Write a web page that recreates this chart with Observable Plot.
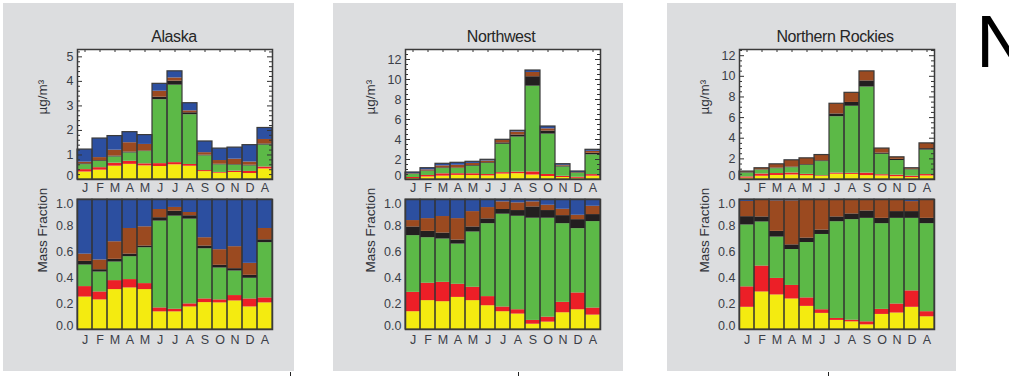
<!DOCTYPE html>
<html>
<head>
<meta charset="utf-8">
<script src="https://cdn.jsdelivr.net/npm/d3@7"></script>
<script src="https://cdn.jsdelivr.net/npm/@observablehq/plot@0.6"></script>
<style>
  body { margin: 0; background: #ffffff; }
  #root { position: relative; width: 1009px; height: 376px; overflow: hidden; font-family: Arial, "Liberation Sans", sans-serif; }
  .panel { position: absolute; background: #dcdddf; }
  .title { position: absolute; width: 200px; font-size: 16px; line-height: 18px; letter-spacing: -0.4px; color: #262626; text-align: center; }
  .chart { position: absolute; }
  .bigN { position: absolute; font-size: 74px; line-height: 74px; color: #000; font-family: Arial, "Liberation Sans", sans-serif; }
  .mark { position: absolute; width: 1px; height: 4px; background: #222; }
</style>
</head>
<body>
<div id="root"></div>
<script>
// ---- categories ----
const monthLabels = ["J","F","M","A","M","J","J","A","S","O","N","D","A"];
const componentNames = ["Ammonium sulfate","Ammonium nitrate","Organic mass","Elemental carbon","Soil","Sea salt"];
const componentColors = ["#f4eb10","#ec1f27","#5cb947","#231f20","#9b4a20","#2c4fa0"];
const regionNames = ["Alaska","Northwest","Northern Rockies"];

// ---- Alaska: monthly total (µg/m³) and mass fractions ----
const alaskaTotal    = [1.22,1.67,1.77,1.93,1.81,3.90,4.41,3.11,1.55,1.26,1.30,1.40,2.10];
const alaskaSulfate  = [0.250,0.228,0.307,0.320,0.307,0.136,0.136,0.174,0.207,0.205,0.220,0.174,0.205];
const alaskaNitrate  = [0.080,0.061,0.069,0.064,0.046,0.030,0.020,0.023,0.028,0.023,0.041,0.061,0.038];
const alaskaOrganic  = [0.166,0.153,0.143,0.176,0.276,0.668,0.716,0.652,0.386,0.245,0.189,0.159,0.425];
const alaskaEC       = [0.028,0.018,0.021,0.020,0.013,0.026,0.038,0.026,0.021,0.021,0.018,0.023,0.022];
const alaskaSoil     = [0.056,0.075,0.135,0.197,0.148,0.063,0.029,0.025,0.064,0.120,0.169,0.092,0.087];
const alaskaSeaSalt  = [0.420,0.465,0.325,0.223,0.210,0.077,0.061,0.100,0.294,0.386,0.363,0.491,0.223];

// ---- Northwest ----
const northwestTotal    = [0.70,1.13,1.57,1.67,1.77,1.97,3.97,4.87,10.90,5.30,1.53,0.80,2.97];
const northwestSulfate  = [0.137,0.222,0.214,0.247,0.222,0.183,0.137,0.119,0.041,0.057,0.129,0.152,0.111];
const northwestNitrate  = [0.149,0.134,0.149,0.101,0.103,0.070,0.036,0.033,0.029,0.038,0.080,0.129,0.054];
const northwestOrganic  = [0.436,0.350,0.333,0.309,0.425,0.561,0.714,0.719,0.786,0.761,0.605,0.495,0.665];
const northwestEC       = [0.067,0.049,0.046,0.031,0.039,0.037,0.036,0.044,0.087,0.059,0.062,0.069,0.054];
const northwestSoil     = [0.049,0.098,0.127,0.165,0.118,0.087,0.059,0.059,0.039,0.041,0.049,0.034,0.064];
const northwestSeaSalt  = [0.162,0.147,0.131,0.147,0.093,0.062,0.018,0.026,0.018,0.044,0.075,0.121,0.052];

// ---- Northern Rockies ----
const rockiesTotal    = [0.77,1.09,1.47,1.86,2.05,2.37,7.34,8.40,10.48,3.00,2.15,1.09,3.50];
const rockiesSulfate  = [0.171,0.289,0.266,0.235,0.178,0.124,0.070,0.059,0.036,0.116,0.127,0.171,0.098];
const rockiesNitrate  = [0.157,0.199,0.127,0.104,0.065,0.028,0.015,0.013,0.023,0.039,0.069,0.126,0.039];
const rockiesOrganic  = [0.476,0.339,0.318,0.276,0.426,0.579,0.744,0.773,0.796,0.659,0.659,0.558,0.677];
const rockiesEC       = [0.064,0.039,0.044,0.036,0.034,0.034,0.037,0.044,0.057,0.041,0.052,0.052,0.041];
const rockiesSoil     = [0.117,0.134,0.235,0.339,0.297,0.235,0.134,0.111,0.088,0.145,0.093,0.077,0.145];
const rockiesSeaSalt  = [0.015,0.000,0.010,0.010,0.000,0.000,0.000,0.000,0.000,0.000,0.000,0.016,0.000];

// ---- axis ticks ----
const alaskaTicks = [0,1,2,3,4,5];
const bigTicks = [0,2,4,6,8,10,12];
const fractionTicks = [0,0.2,0.4,0.6,0.8,1.0];

const regions = [
  {name: regionNames[0], total: alaskaTotal, fr: [alaskaSulfate,alaskaNitrate,alaskaOrganic,alaskaEC,alaskaSoil,alaskaSeaSalt], yMax: 5.3, ticks: alaskaTicks, minorStep: 0.2, panel: [3,294], frameLeft: 77, titleX: 174},
  {name: regionNames[1], total: northwestTotal, fr: [northwestSulfate,northwestNitrate,northwestOrganic,northwestEC,northwestSoil,northwestSeaSalt], yMax: 13, ticks: bigTicks, minorStep: 0.5, panel: [333,623], frameLeft: 405, titleX: 501},
  {name: regionNames[2], total: rockiesTotal, fr: [rockiesSulfate,rockiesNitrate,rockiesOrganic,rockiesEC,rockiesSoil,rockiesSeaSalt], yMax: 12.6, ticks: bigTicks, minorStep: 0.5, panel: [667,956], frameLeft: 739, titleX: 835}
];

const root = document.getElementById("root");
const W = 195, H = 130;
const mL = 48, mR = 4, mT = 4, mB = 22;
const FRAME_TOP_1 = 49, FRAME_TOP_2 = 199;
const idx = d3.range(monthLabels.length);
const textColor = "#3b3e47";
const baseStyle = {fontFamily: 'Arial, "Liberation Sans", sans-serif', fontSize: "12px", color: textColor, background: "transparent", overflow: "visible"};
const intFormat = d => String(d);

function place(el, left, top) {
  const wrap = document.createElement("div");
  wrap.className = "chart";
  wrap.style.left = left + "px";
  wrap.style.top = top + "px";
  wrap.appendChild(el);
  root.appendChild(wrap);
}

for (const r of regions) {
  const panel = document.createElement("div");
  panel.className = "panel";
  panel.style.left = r.panel[0] + "px";
  panel.style.top = "3px";
  panel.style.width = (r.panel[1] - r.panel[0]) + "px";
  panel.style.height = "368px";
  root.appendChild(panel);

  const title = document.createElement("div");
  title.className = "title";
  title.textContent = r.name;
  title.style.left = (r.titleX - 100) + "px";
  title.style.top = "28px";
  root.appendChild(title);

  const rows = [];
  for (const i of idx) for (let c = 0; c < componentNames.length; c++) {
    rows.push({i, c, v: r.fr[c][i] * r.total[i]});
  }
  const totals = idx.map(i => ({i, t: r.total[i]}));
  const minor = d3.range(0, r.yMax + 1e-9, r.minorStep).filter(v => !r.ticks.some(t => Math.abs(t - v) < 1e-6));

  const top = Plot.plot({
    width: W + mL + mR, height: H + mT + mB,
    marginLeft: mL, marginRight: mR, marginTop: mT, marginBottom: mB,
    style: baseStyle,
    x: {type: "band", domain: idx, padding: 0},
    y: {domain: [0, r.yMax]},
    color: {domain: d3.range(componentNames.length), range: componentColors},
    marks: [
      Plot.frame({fill: "white"}),
      Plot.barY(rows, {x: "i", y: "v", fill: "c"}),
      Plot.barY(totals, {x: "i", y1: 0, y2: "t", fill: "none", stroke: "#3a3a3a", strokeWidth: 1.2}),
      Plot.ruleY(r.ticks, {insetRight: W - 5, stroke: "#333"}),
      Plot.ruleY(r.ticks, {insetLeft: W - 5, stroke: "#333"}),
      Plot.ruleY(minor, {insetRight: W - 3, stroke: "#333"}),
      Plot.ruleY(minor, {insetLeft: W - 3, stroke: "#333"}),
      Plot.ruleX(idx, {x: d => d, insetBottom: H - 3, stroke: "#333"}),
      Plot.frame({stroke: "#3a3a3a", strokeWidth: 1.5}),
      Plot.axisX({tickSize: 0, tickPadding: 4, tickFormat: i => monthLabels[i], label: null, fontSize: 12.5}),
      Plot.axisY({ticks: r.ticks.filter(t => t !== 0), tickSize: 0, tickPadding: 4, tickFormat: intFormat, label: null, fontSize: 12.5}),
      Plot.axisY({ticks: [0], tickSize: 0, tickPadding: 4, tickFormat: intFormat, label: null, dy: -4, fontSize: 12.5}),
      Plot.text(["µg/m³"], {frameAnchor: "left", dx: -35, rotate: -90, fontSize: 13.5, fill: "#2f3138"})
    ]
  });
  place(top, r.frameLeft - mL, FRAME_TOP_1 - mT);

  const bottom = Plot.plot({
    width: W + mL + mR, height: H + mT + mB,
    marginLeft: mL, marginRight: mR, marginTop: mT, marginBottom: mB,
    style: baseStyle,
    x: {type: "band", domain: idx, padding: 0},
    y: {domain: [0, 1]},
    color: {domain: d3.range(componentNames.length), range: componentColors},
    marks: [
      Plot.barY(rows, {x: "i", y: "v", fill: "c", offset: "normalize"}),
      Plot.barY(idx, {x: d => d, y1: 0, y2: 1, fill: "none", stroke: "#333", strokeWidth: 1}),
      Plot.frame({stroke: "#3a3a3a", strokeWidth: 1.5}),
      Plot.axisX({tickSize: 0, tickPadding: 5.5, tickFormat: i => monthLabels[i], label: null, fontSize: 12.5}),
      Plot.axisY({ticks: fractionTicks.slice(1, -1), tickSize: 0, tickPadding: 4, tickFormat: d => d.toFixed(1), label: null, fontSize: 12.5}),
      Plot.axisY({ticks: [0], tickSize: 0, tickPadding: 4, tickFormat: d => d.toFixed(1), label: null, dy: -4, fontSize: 12.5}),
      Plot.axisY({ticks: [1], tickSize: 0, tickPadding: 4, tickFormat: d => d.toFixed(1), label: null, dy: 4, fontSize: 12.5}),
      Plot.text(["Mass Fraction"], {frameAnchor: "left", dx: -35, dy: 8, rotate: -90, fontSize: 13.5, fill: "#2f3138"})
    ]
  });
  place(bottom, r.frameLeft - mL, FRAME_TOP_2 - mT);
}

// large letter at the right edge, cut off as in the source image
const bigN = document.createElement("div");
bigN.className = "bigN";
bigN.textContent = "N";
bigN.style.left = "976px";
bigN.style.top = "5px";
root.appendChild(bigN);

for (const x of [290, 518, 828]) {
  const m = document.createElement("div");
  m.className = "mark";
  m.style.left = x + "px";
  m.style.top = "372px";
  root.appendChild(m);
}
</script>
</body>
</html>
